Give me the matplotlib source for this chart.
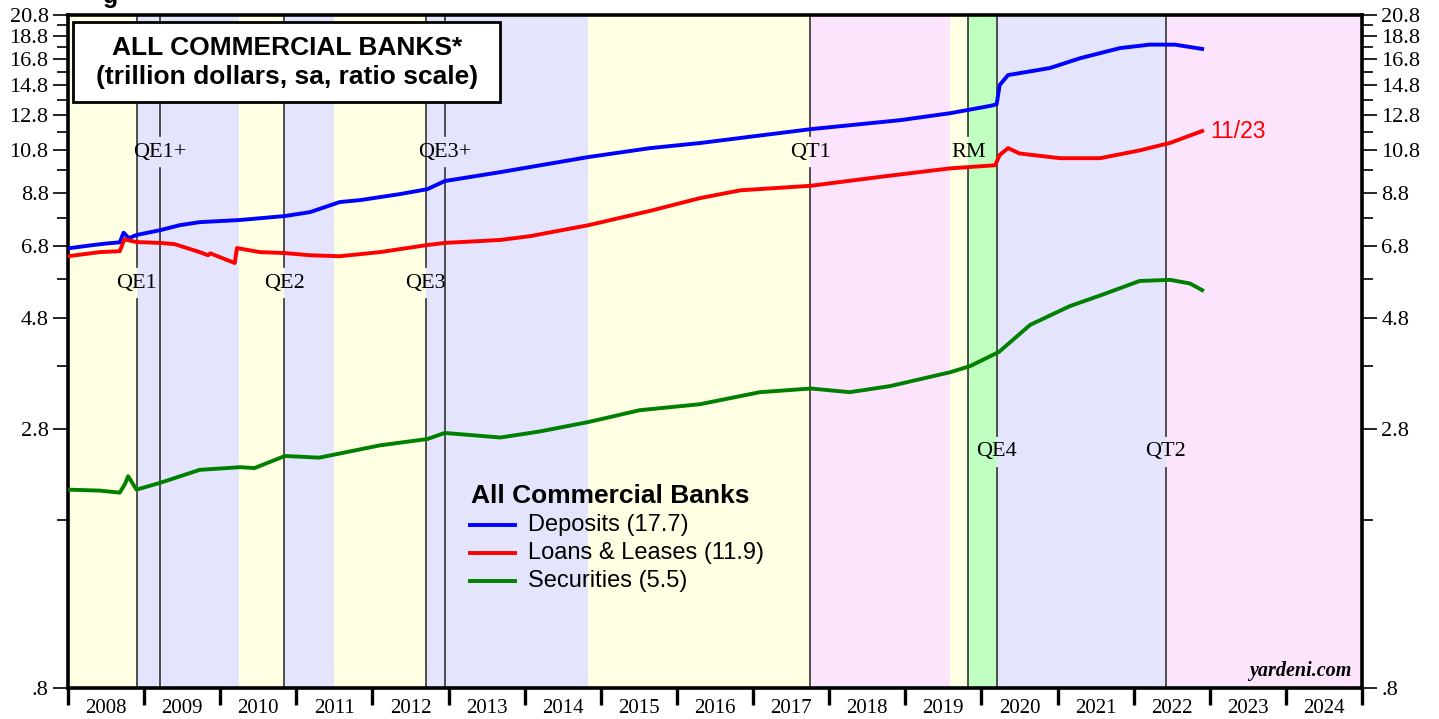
import matplotlib
matplotlib.use("Agg")
import matplotlib.pyplot as plt
from matplotlib.patches import Rectangle
from matplotlib.lines import Line2D
from matplotlib.ticker import FixedLocator, NullFormatter, FixedFormatter
import numpy as np

# ---------------- data ----------------
dep_x = [2008.0, 2008.3, 2008.5, 2008.68, 2008.73, 2008.8, 2008.9, 2009.21, 2009.47, 2009.73,
         2010.26, 2010.85, 2011.18, 2011.57, 2011.84, 2012.36, 2012.72, 2012.95, 2013.68,
         2014.84, 2015.65, 2016.3, 2017.76, 2018.93, 2019.59, 2020.12, 2020.2, 2020.24,
         2020.35, 2020.9, 2021.3, 2021.82, 2022.21, 2022.54, 2022.9]
dep_y = [6.72, 6.82, 6.88, 6.92, 7.25, 7.06, 7.17, 7.34, 7.52, 7.63,
         7.71, 7.86, 8.01, 8.41, 8.49, 8.74, 8.95, 9.31, 9.72,
         10.46, 10.92, 11.19, 11.97, 12.50, 12.93, 13.40, 13.50, 14.82,
         15.55, 16.09, 16.88, 17.72, 18.02, 18.02, 17.65]

loan_x = [2008.0, 2008.42, 2008.68, 2008.74, 2008.9, 2009.21, 2009.4, 2009.73, 2009.84, 2009.87,
          2010.19, 2010.22, 2010.52, 2010.85, 2011.18, 2011.57, 2012.1, 2012.72, 2012.95,
          2013.68, 2014.07, 2014.84, 2015.65, 2016.3, 2016.83, 2017.76, 2018.67, 2019.59,
          2020.18, 2020.24, 2020.35, 2020.5, 2021.03, 2021.56, 2022.08, 2022.48, 2022.9]
loan_y = [6.47, 6.60, 6.63, 7.02, 6.93, 6.90, 6.86, 6.60, 6.50, 6.56,
          6.26, 6.73, 6.60, 6.57, 6.50, 6.47, 6.60, 6.83, 6.90,
          7.00, 7.13, 7.52, 8.06, 8.57, 8.90, 9.10, 9.50, 9.90,
          10.05, 10.56, 10.92, 10.64, 10.40, 10.40, 10.80, 11.20, 11.86]

sec_x = [2008.0, 2008.42, 2008.68, 2008.75, 2008.79, 2008.9, 2009.21, 2009.73, 2010.26, 2010.45,
         2010.85, 2011.3, 2012.1, 2012.72, 2012.95, 2013.68, 2014.2, 2014.84, 2015.51, 2016.3,
         2017.09, 2017.76, 2018.27, 2018.8, 2019.59, 2019.85, 2020.23, 2020.64, 2021.16,
         2021.56, 2022.08, 2022.48, 2022.74, 2022.9]
sec_y = [2.09, 2.08, 2.06, 2.15, 2.23, 2.09, 2.16, 2.30, 2.33, 2.32,
         2.46, 2.44, 2.59, 2.67, 2.75, 2.69, 2.77, 2.90, 3.07, 3.16,
         3.35, 3.41, 3.35, 3.45, 3.69, 3.80, 4.07, 4.64, 5.08,
         5.35, 5.74, 5.77, 5.67, 5.49]

series_names = ["Deposits", "Loans & Leases", "Securities"]
series_latest = [17.7, 11.9, 5.5]
series_colors = ["#0000ff", "#ff0000", "#008000"]
last_date_label = "11/23"

# policy regimes (shaded bands)
band_start = [2008.0, 2008.9, 2010.25, 2010.84, 2011.5, 2012.70, 2014.83, 2017.75, 2019.59, 2019.83, 2020.2, 2022.42]
band_end = [2008.9, 2010.25, 2010.84, 2011.5, 2012.70, 2014.83, 2017.75, 2019.59, 2019.83, 2020.2, 2022.42, 2025.0]
band_kind = ["y", "l", "y", "l", "y", "l", "y", "p", "y", "g", "l", "p"]
band_colors = {"y": "#ffffe3", "l": "#e4e4fc", "p": "#fde4fd", "g": "#bfffbf"}

# events (vertical lines)
event_names = ["QE1", "QE1+", "QE2", "QE3", "QE3+", "QT1", "RM", "QE4", "QT2"]
event_dates = [2008.9, 2009.21, 2010.84, 2012.70, 2012.95, 2017.75, 2019.83, 2020.2, 2022.42]
event_label_level = [5.68, 10.7, 5.68, 5.68, 10.7, 10.7, 10.7, 2.51, 2.51]

ymajor = [0.8, 2.8, 4.8, 6.8, 8.8, 10.8, 12.8, 14.8, 16.8, 18.8, 20.8]
ymajor_labels = [".8", "2.8", "4.8", "6.8", "8.8", "10.8", "12.8", "14.8", "16.8", "18.8", "20.8"]
yminor = [1.8, 3.8, 5.8, 7.8, 9.8, 11.8, 13.8, 15.8, 17.8, 19.8]
years = list(range(2008, 2025))

# ---------------- figure ----------------
W, H = 1439, 719
fig = plt.figure(figsize=(W / 100, H / 100), dpi=100)
L, R, T, B = 68, 1362, 15, 688
ax = fig.add_axes([L / W, 1 - B / H, (R - L) / W, (B - T) / H])
ax.set_yscale("log")
ax.set_ylim(0.8, 20.8)
ax.set_xlim(2008, 2025)

serif = "Liberation Serif"
sans = "Liberation Sans"

for s, e, k in zip(band_start, band_end, band_kind):
    ax.axvspan(s, e, color=band_colors[k], lw=0, zorder=0)

# event lines with gaps around labels
gap = 16 / (B - T)
for name, d, lev in zip(event_names, event_dates, event_label_level):
    yf = np.log(lev / 0.8) / np.log(20.8 / 0.8)
    ax.axvline(d, 0, yf - gap, color="#333333", lw=1.2, zorder=1)
    ax.axvline(d, yf + gap, 1, color="#333333", lw=1.2, zorder=1)
    ax.text(d, lev, name, ha="center", va="center", fontsize=16, family=serif, zorder=2)

for xs, ys, c in zip([dep_x, loan_x, sec_x], [dep_y, loan_y, sec_y], series_colors):
    ax.plot(xs, ys, color=c, lw=2.8, solid_joinstyle="round", zorder=3)

ax.annotate(last_date_label, xy=(loan_x[-1], loan_y[-1]), xytext=(6, 0), textcoords="offset points",
            ha="left", va="center", color="#ff0000", fontsize=16.5, family=sans)

# axes styling
for sp in ax.spines.values():
    sp.set_linewidth(2.6)
ax.yaxis.set_major_locator(FixedLocator(ymajor))
ax.yaxis.set_major_formatter(FixedFormatter(ymajor_labels))
ax.yaxis.set_minor_locator(FixedLocator(yminor))
ax.yaxis.set_minor_formatter(NullFormatter())
ax.tick_params(axis="y", which="both", left=True, right=True, labelleft=True, labelright=True,
               direction="out", width=1.2, labelsize=16, pad=3)
ax.tick_params(axis="y", which="major", length=11)
ax.tick_params(axis="y", which="minor", length=8)
ax.set_xticks(years + [2025])
ax.set_xticklabels([])
ax.set_xticks([y + 0.5 for y in years], minor=True)
ax.set_xticklabels([str(y) for y in years], minor=True)
ax.tick_params(axis="x", which="major", direction="out", length=12, width=2.4)
ax.tick_params(axis="x", which="minor", length=0, labelsize=15, pad=8)
for lab in ax.get_yticklabels() + ax.get_xticklabels(minor=True):
    lab.set_family(serif)

# title box
fig.add_artist(Rectangle((73 / W, 1 - 102 / H), 427 / W, 80 / H, transform=fig.transFigure,
                         facecolor="white", edgecolor="black", lw=2.0, zorder=5))
fig.text(287 / W, 1 - 48 / H, "ALL COMMERCIAL BANKS*", ha="center", va="center",
         fontsize=19, fontweight="bold", family=sans, zorder=6)
fig.text(287 / W, 1 - 77 / H, "(trillion dollars, sa, ratio scale)", ha="center", va="center",
         fontsize=19, fontweight="bold", family=sans, zorder=6)

# legend
fig.text(471 / W, 1 - 496 / H, "All Commercial Banks", ha="left", va="center", fontsize=19,
         fontweight="bold", family=sans)
for i, (n, v, c) in enumerate(zip(series_names, series_latest, series_colors)):
    yy = 1 - (525 + 28 * i) / H
    fig.add_artist(Line2D([470 / W, 515 / W], [yy, yy], color=c, lw=2.8, transform=fig.transFigure))
    fig.text(528 / W, yy, f"{n} ({v})", ha="left", va="center", fontsize=17, family=sans)

ax.text(0.992, 0.025, "yardeni.com", transform=ax.transAxes, ha="right", va="center",
        fontsize=14.5, fontweight="bold", fontstyle="italic", family=serif)

fig.text(103 / W, 1 - 3 / H, "g", ha="left", va="baseline", fontsize=18, fontweight="bold", family=sans)

fig.savefig("out.png", dpi=100)
